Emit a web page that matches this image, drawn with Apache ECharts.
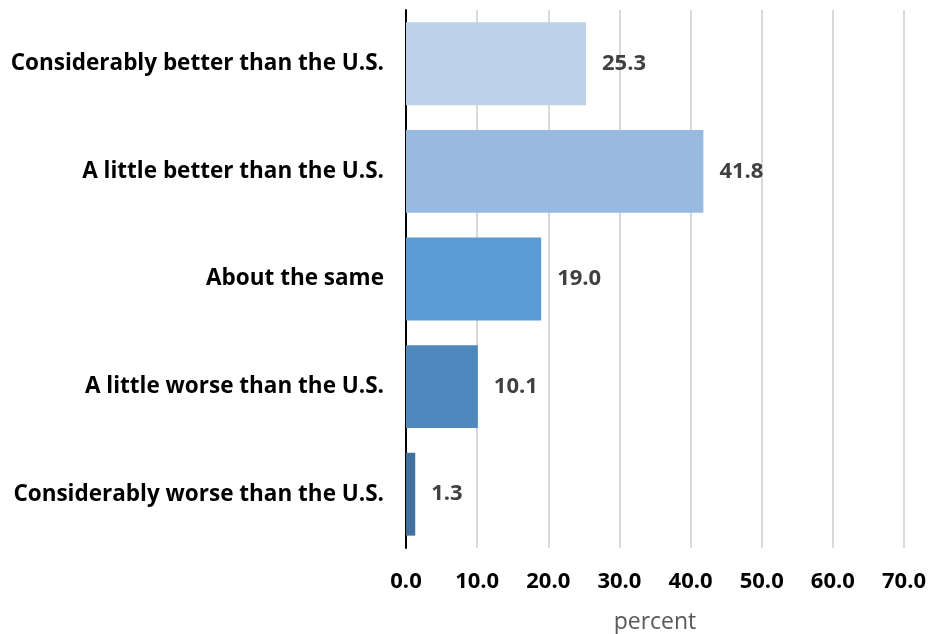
<!DOCTYPE html>
<html>
<head>
<meta charset="utf-8">
<script src="https://cdn.jsdelivr.net/npm/echarts@6/dist/echarts.min.js"></script>
<style>html,body{margin:0;padding:0;background:#fff}#c{width:930px;height:634px}</style>
</head>
<body>
<div id="c"></div>
<script>
const categories = ["Considerably better than the U.S.", "A little better than the U.S.", "About the same", "A little worse than the U.S.", "Considerably worse than the U.S."];
const values = [25.3, 41.8, 19.0, 10.1, 1.3];
const barColors = ["#BDD1EA", "#98BAE0", "#5B9BD5", "#4E88BD", "#41719C"];
const xTicks = [0, 10, 20, 30, 40, 50, 60, 70];

const chart = echarts.init(document.getElementById('c'));
const font = '"Open Sans", sans-serif';
chart.setOption({
  animation: false,
  grid: {left: 406, right: 26, top: 10, bottom: 86, containLabel: false, outerBoundsMode: 'none'},
  xAxis: {
    type: 'value', min: xTicks[0], max: xTicks[xTicks.length-1], interval: 10,
    name: 'percent', nameLocation: 'middle', nameGap: 63,
    nameTextStyle: {color: '#595959', fontSize: 23, fontFamily: font},
    axisLine: {show: false}, axisTick: {show: false},
    axisLabel: {color: '#000', fontSize: 22, fontWeight: 'bold', fontFamily: font, margin: 23,
      formatter: v => v.toFixed(1)},
    splitLine: {show: true, lineStyle: {color: '#D9D9D9', width: 2}}
  },
  yAxis: {
    type: 'category', data: categories, inverse: true,
    axisLine: {show: true, lineStyle: {color: '#000', width: 2}}, axisTick: {show: false},
    axisLabel: {color: '#000', fontSize: 22.5, fontWeight: 'bold', fontFamily: font, margin: 22}
  },
  series: [{
    type: 'bar', barCategoryGap: '23%',
    data: values.map((v, i) => ({value: v, itemStyle: {color: barColors[i]}})),
    label: {show: true, position: 'right', distance: 16, color: '#404040', fontSize: 22, fontWeight: 'bold', fontFamily: font,
      formatter: p => p.value.toFixed(1)}
  }]
});
</script>
</body>
</html>
